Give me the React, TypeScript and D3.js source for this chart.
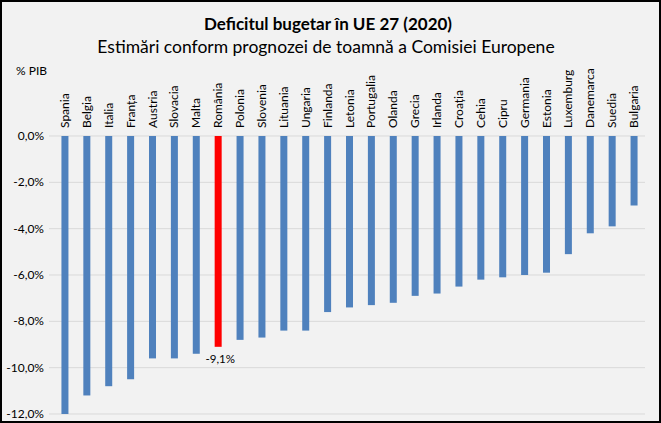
import { scaleBand, scaleLinear } from "d3";

const countries = [
  "Spania", "Belgia", "Italia", "Franța", "Austria", "Slovacia", "Malta", "România",
  "Polonia", "Slovenia", "Lituania", "Ungaria", "Finlanda", "Letonia", "Portugalia",
  "Olanda", "Grecia", "Irlanda", "Croația", "Cehia", "Cipru", "Germania", "Estonia",
  "Luxemburg", "Danemarca", "Suedia", "Bulgaria",
];
const deficit = [
  -12.0, -11.2, -10.8, -10.5, -9.6, -9.6, -9.4, -9.1, -8.8, -8.7, -8.4, -8.4, -7.6,
  -7.4, -7.3, -7.2, -6.9, -6.8, -6.5, -6.2, -6.1, -6.0, -5.9, -5.1, -4.2, -3.9, -3.0,
];
const yTicks = [0, -2, -4, -6, -8, -10, -12];
const highlight = "România";

const W = 661;
const H = 423;
const font = "Lato, 'Open Sans', sans-serif";

const fmt = (v: number) => v.toFixed(1).replace(".", ",") + "%";

export default function App() {
  const x = scaleBand().domain(countries).range([54, 645]).paddingInner(0.68).paddingOuter(0.34);
  const y = scaleLinear().domain([-12, 0]).range([414, 136]);
  const hi = countries.indexOf(highlight);

  return (
    <svg
      width={W}
      height={H}
      style={{ position: "absolute", left: 0, top: 0, fontFamily: font }}
    >
      <rect x={1} y={1} width={W - 2} height={H - 2} fill="#f2f2f2" stroke="#000" strokeWidth={2} />
      <text x={328} y={30} textAnchor="middle" fontSize={17} fontWeight="bold" fill="#000">
        Deficitul bugetar în UE 27 (2020)
      </text>
      <text x={326} y={53} textAnchor="middle" fontSize={17.5} fill="#000">
        Estimări conform prognozei de toamnă a Comisiei Europene
      </text>
      <text x={16} y={75} fontSize={12} fill="#000">% PIB</text>

      {yTicks.map((t) => (
        <g key={t}>
          <line x1={49} x2={645} y1={y(t)} y2={y(t)} stroke="#d9d9d9" strokeWidth={1} />
          <text x={44} y={y(t) + 4} textAnchor="end" fontSize={12} fill="#000">
            {fmt(t)}
          </text>
        </g>
      ))}

      {countries.map((c, i) => (
        <rect
          key={c}
          x={x(c)}
          y={y(0)}
          width={x.bandwidth()}
          height={y(deficit[i]) - y(0)}
          fill={c === highlight ? "#ff0000" : "#4f81bd"}
        />
      ))}

      {countries.map((c) => {
        const cx = (x(c) ?? 0) + x.bandwidth() / 2;
        return (
          <text
            key={c}
            transform={`translate(${cx + 4},128) rotate(-90)`}
            fontSize={12}
            fill="#000"
          >
            {c}
          </text>
        );
      })}

      <text
        x={(x(highlight) ?? 0) + x.bandwidth() / 2 + 2}
        y={y(deficit[hi]) + 16}
        textAnchor="middle"
        fontSize={11.5}
        fill="#000"
      >
        {fmt(deficit[hi])}
      </text>
    </svg>
  );
}
